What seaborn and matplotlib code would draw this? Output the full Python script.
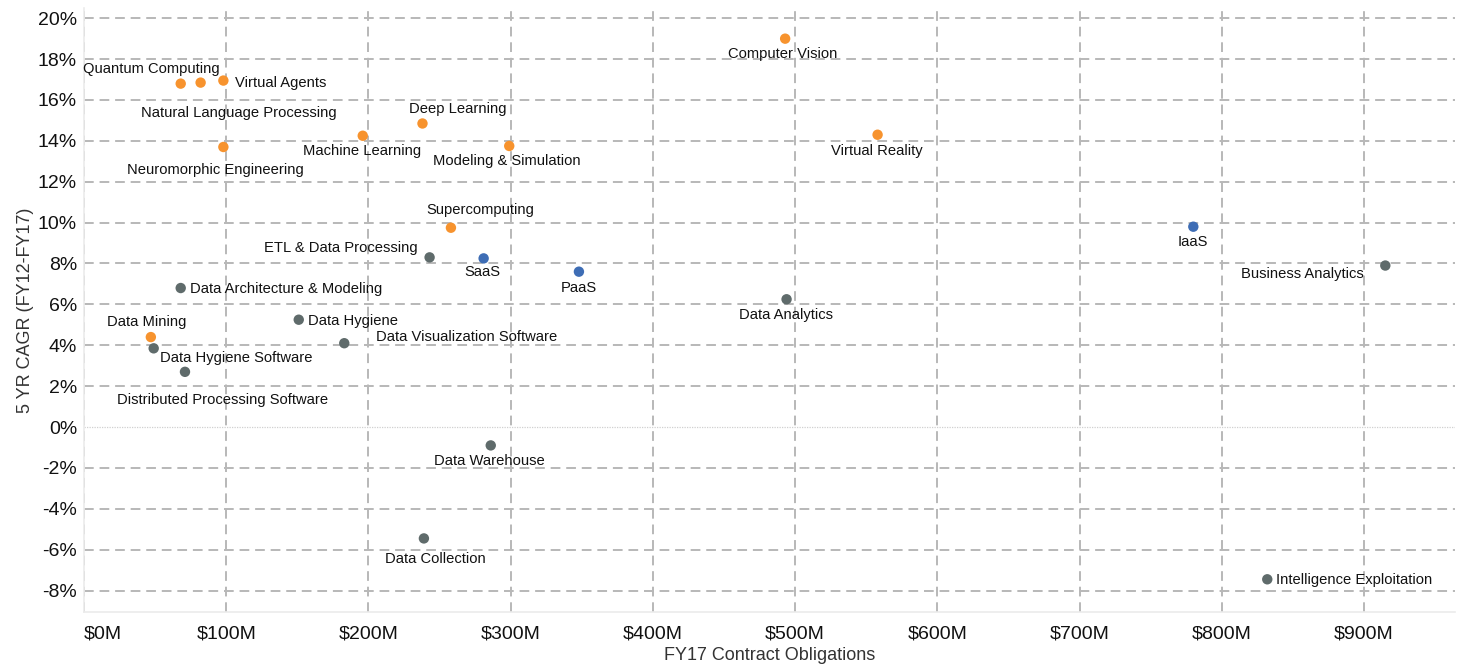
import matplotlib
matplotlib.use("Agg")
import matplotlib.pyplot as plt
import seaborn as sns
import pandas as pd
from matplotlib.ticker import FuncFormatter, MultipleLocator

# ---- data ----
names = [
    "Quantum Computing", "Natural Language Processing", "Virtual Agents",
    "Neuromorphic Engineering", "Machine Learning", "Deep Learning",
    "Modeling & Simulation", "Computer Vision", "Virtual Reality",
    "Supercomputing", "ETL & Data Processing", "SaaS", "PaaS", "IaaS",
    "Business Analytics", "Data Architecture & Modeling", "Data Analytics",
    "Data Hygiene", "Data Visualization Software", "Data Mining",
    "Data Hygiene Software", "Distributed Processing Software",
    "Data Warehouse", "Data Collection", "Intelligence Exploitation",
]
obligations_m = [68, 82, 98, 98, 196, 238, 299, 493, 558, 258, 243, 281, 348, 780,
                 915, 68, 494, 151, 183, 47, 49, 71, 286, 239, 832]
cagr_pct = [16.8, 16.85, 16.95, 13.7, 14.25, 14.85, 13.75, 19.0, 14.3, 9.75, 8.3, 8.25,
            7.6, 9.8, 7.9, 6.8, 6.25, 5.25, 4.1, 4.4, 3.85, 2.7, -0.9, -5.45, -7.45]
groups = ["Emerging"] * 10 + ["Data"] + ["Cloud"] * 3 + ["Data"] * 5 + ["Emerging"] + ["Data"] * 5

palette = {"Emerging": "#F7932E", "Cloud": "#3E6DB5", "Data": "#5F6B6B"}

# label offsets in pixels (dx, dy upward), and alignment
label_layout = {
    "Quantum Computing": (-29, 15, "center"),
    "Natural Language Processing": (38, -30, "center"),
    "Virtual Agents": (12, -2, "left"),
    "Neuromorphic Engineering": (-8, -23, "center"),
    "Machine Learning": (-1, -15, "center"),
    "Deep Learning": (35, 14, "center"),
    "Modeling & Simulation": (-2, -15, "center"),
    "Computer Vision": (-2, -15, "center"),
    "Virtual Reality": (-1, -16, "center"),
    "Supercomputing": (29, 18, "center"),
    "ETL & Data Processing": (-12, 9, "right"),
    "SaaS": (-1, -14, "center"),
    "PaaS": (0, -16, "center"),
    "IaaS": (-1, -15, "center"),
    "Business Analytics": (-22, -8, "right"),
    "Data Architecture & Modeling": (9, -1, "left"),
    "Data Analytics": (-1, -16, "center"),
    "Data Hygiene": (9, -1, "left"),
    "Data Visualization Software": (32, 6, "left"),
    "Data Mining": (-4, 15, "center"),
    "Data Hygiene Software": (6, -10, "left"),
    "Distributed Processing Software": (38, -28, "center"),
    "Data Warehouse": (-1, -16, "center"),
    "Data Collection": (11, -21, "center"),
    "Intelligence Exploitation": (9, -1, "left"),
}

df = pd.DataFrame({"name": names, "x": obligations_m, "y": cagr_pct, "group": groups})

sns.set_theme(style="white")
plt.rcParams["font.family"] = ["Liberation Sans", "DejaVu Sans"]

fig = plt.figure(figsize=(14.6, 6.7), dpi=100)
ax = fig.add_axes([84 / 1460, 1 - 612 / 670, (1455 - 84) / 1460, (612 - 8) / 670])

sns.scatterplot(data=df, x="x", y="y", hue="group", palette=palette, s=56,
                edgecolor="none", linewidth=0, legend=False, ax=ax, zorder=3)

for n, xv, yv in zip(names, obligations_m, cagr_pct):
    dx, dy, ha = label_layout[n]
    ax.annotate(n, (xv, yv), xytext=(dx, dy), textcoords="offset pixels",
                ha=ha, va="center", fontsize=10.6, color="#111111", zorder=4)

ax.set_xlim(0, 964)
ax.set_ylim(-9.05, 20.5)
ax.xaxis.set_major_locator(MultipleLocator(100))
ax.yaxis.set_major_locator(MultipleLocator(2))
ax.xaxis.set_major_formatter(FuncFormatter(lambda v, p: f"${v:.0f}M"))
ax.yaxis.set_major_formatter(FuncFormatter(lambda v, p: f"{v:.0f}%"))
ax.tick_params(axis="both", length=0, labelsize=14, colors="#111111")
ax.tick_params(axis="x", pad=10)
ax.tick_params(axis="y", pad=5)

ax.grid(True, which="major", color="#B8B8B8", linestyle=(0, (5, 3)), linewidth=1.4, zorder=0)
for tick, line in zip(ax.get_yticks(), ax.get_ygridlines()):
    if abs(tick) < 1e-9:
        line.set_linestyle((0, (1, 1)))
        line.set_color("#D0D0D0")
        line.set_linewidth(0.9)

fig.canvas.draw()
for lbl in ax.get_xticklabels():
    if lbl.get_text() == "$0M":
        lbl.set_horizontalalignment("left")

for side in ["top", "right"]:
    ax.spines[side].set_visible(False)
for side in ["left", "bottom"]:
    ax.spines[side].set_color("#EBEBEB")
    ax.spines[side].set_linewidth(1.2)

ax.set_xlabel("FY17 Contract Obligations", fontsize=13, color="#333333", labelpad=3)
ax.set_ylabel("5 YR CAGR (FY12-FY17)", fontsize=13, color="#333333", labelpad=3)

fig.savefig("out.png", dpi=100)
